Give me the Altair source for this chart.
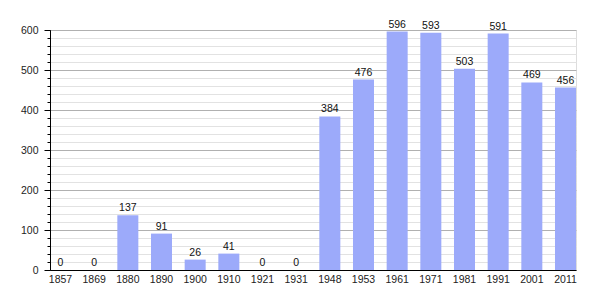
import altair as alt
import pandas as pd

years = ["1857", "1869", "1880", "1890", "1900", "1910", "1921", "1931",
         "1948", "1953", "1961", "1971", "1981", "1991", "2001", "2011"]
values = [0, 0, 137, 91, 26, 41, 0, 0, 384, 476, 596, 593, 503, 591, 469, 456]

major_ticks = [0, 100, 200, 300, 400, 500, 600]
minor_ticks = list(range(0, 601, 20))

df = pd.DataFrame({"year": years, "value": values})

FONT = "Liberation Sans"
FS = 10.5
BAR = "#9caafa"

xenc = alt.X("year:N", sort=years, title=None,
             scale=alt.Scale(paddingInner=0.376, paddingOuter=0),
             axis=alt.Axis(labelAngle=0, ticks=False, domainColor="#000",
                           labelFont=FONT, labelFontSize=FS, labelColor="#222",
                           labelPadding=4))

yscale = alt.Scale(domain=[0, 600], nice=False, zero=True)

minor = alt.Chart(df).mark_bar(opacity=0).encode(
    x=xenc,
    y=alt.Y("value:Q", scale=yscale, title=None,
            axis=alt.Axis(values=minor_ticks, labels=False, grid=True,
                          gridColor="#e2e2e2", gridWidth=1, tickSize=3,
                          tickColor="#000", domain=False, orient="left")),
)

bars = alt.Chart(df).mark_bar(color=BAR).encode(
    x=xenc,
    y=alt.Y("value:Q", scale=yscale, title=None,
            axis=alt.Axis(values=major_ticks, grid=True, gridColor="#b0b0b0",
                          gridWidth=1, tickSize=6, tickColor="#000",
                          domainColor="#000", labelFont=FONT, labelFontSize=FS,
                          labelColor="#222", labelPadding=6, orient="left")),
)

labels = alt.Chart(df).mark_text(baseline="bottom", dy=-2, font=FONT,
                                 fontSize=FS, color="#111").encode(
    x=alt.X("year:N", sort=years),
    y=alt.Y("value:Q", scale=yscale, axis=None),
    text="value:Q",
)

chart = alt.layer(minor, bars, labels).resolve_axis(y="independent").properties(
    width=526, height=240,
    autosize=alt.AutoSizeParams(type="none"),
    padding={"left": 50, "top": 30, "right": 29, "bottom": 30},
).configure_view(stroke=None).configure(background="#ffffff")

chart.save("out.html", embed_options={"renderer": "svg", "actions": False})
